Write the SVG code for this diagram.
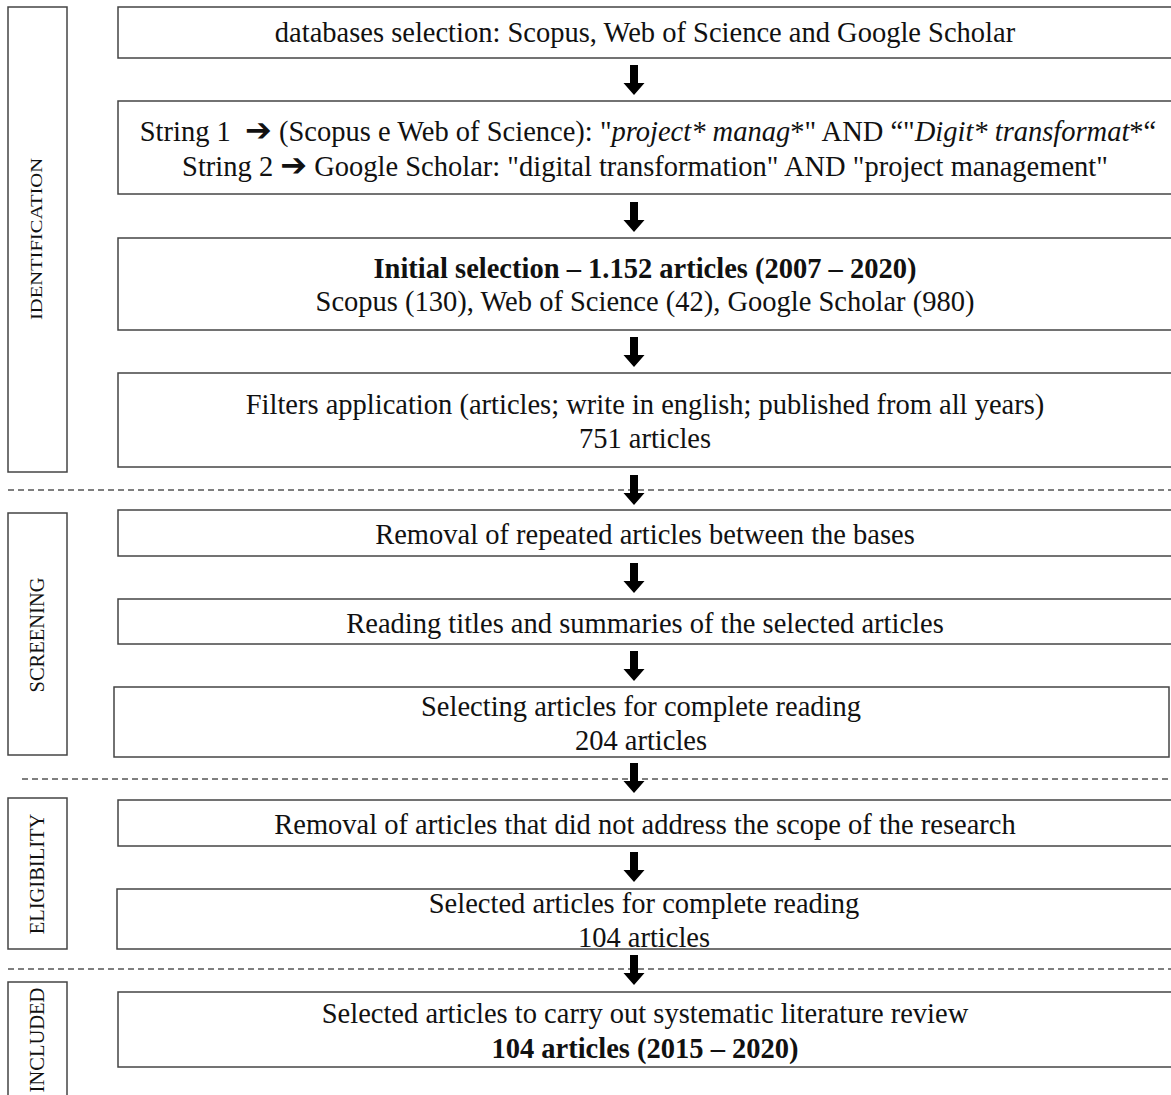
<svg xmlns="http://www.w3.org/2000/svg" width="1171" height="1095" viewBox="0 0 1171 1095">
  <style>
    .box { fill: #ffffff; stroke: #444444; stroke-width: 1.5; }
    .stage { fill: #ffffff; stroke: #444444; stroke-width: 1.5; }
    .sep { stroke: #555555; stroke-width: 1.3; stroke-dasharray: 6 4; fill: none; }
    .t { font-family: "Liberation Serif", "Times New Roman", serif; font-size: 28.5px; fill: #111111; text-anchor: middle; }
    .st { font-family: "Liberation Serif", "Times New Roman", serif; font-size: 20.5px; fill: #111111; text-anchor: middle; }
    .b { font-weight: bold; }
    .i { font-style: italic; }
    .ar { font-family: "DejaVu Sans", sans-serif; font-weight: bold; font-size: 32px; }
  </style>
  <defs>
    <!-- block arrow used between consecutive steps -->
    <path id="down" d="M-4,0 H4 V18 H10.5 L0,30 L-10.5,18 H-4 Z" fill="#000000"/>
  </defs>
  <rect width="1171" height="1095" fill="#ffffff"/>

  <!-- phase separators -->
  <g id="separators">
    <line class="sep" x1="8" y1="490" x2="1171" y2="490"/>
    <line class="sep" x1="22" y1="779" x2="1171" y2="779"/>
    <line class="sep" x1="8" y1="969" x2="1171" y2="969"/>
  </g>

  <!-- phase labels -->
  <g id="stage-identification">
    <rect class="stage" x="8" y="7" width="59" height="465"/>
    <text class="st" style="font-size:16px" transform="translate(42,239) rotate(-90)" textLength="162" lengthAdjust="spacingAndGlyphs">IDENTIFICATION</text>
  </g>
  <g id="stage-screening">
    <rect class="stage" x="8" y="513" width="59" height="242"/>
    <text class="st" transform="translate(44,635) rotate(-90)">SCREENING</text>
  </g>
  <g id="stage-eligibility">
    <rect class="stage" x="8" y="798" width="59" height="151"/>
    <text class="st" transform="translate(44,874) rotate(-90)">ELIGIBILITY</text>
  </g>
  <g id="stage-included">
    <rect class="stage" x="8" y="982" width="59" height="130"/>
    <text class="st" transform="translate(44,1040) rotate(-90)">INCLUDED</text>
  </g>

  <!-- connectors -->
  <g id="connectors">
    <use href="#down" x="634" y="65"/>
    <use href="#down" x="634" y="202"/>
    <use href="#down" x="634" y="337"/>
    <use href="#down" x="634" y="475"/>
    <use href="#down" x="634" y="563"/>
    <use href="#down" x="634" y="651"/>
    <use href="#down" x="634" y="763"/>
    <use href="#down" x="634" y="852"/>
    <use href="#down" x="634" y="955"/>
  </g>

  <!-- steps -->
  <g id="n1">
    <rect class="box" x="118" y="7" width="1060" height="51"/>
    <text class="t" x="645" y="42">databases selection: Scopus, Web of Science and Google Scholar</text>
  </g>
  <g id="n2">
    <rect class="box" x="118" y="101" width="1060" height="93"/>
    <text class="t" x="648" y="141" xml:space="preserve">String 1  <tspan class="ar">➔</tspan> (Scopus e Web of Science): "<tspan class="i">project* manag</tspan>*" AND “"<tspan class="i">Digit* transformat</tspan>*“</text>
    <text class="t" x="645" y="176">String 2 <tspan class="ar">➔</tspan> Google Scholar: "digital transformation" AND "project management"</text>
  </g>
  <g id="n3">
    <rect class="box" x="118" y="238" width="1060" height="92"/>
    <text class="t b" x="645" y="278">Initial selection – 1.152 articles (2007 – 2020)</text>
    <text class="t" x="645" y="311">Scopus (130), Web of Science (42), Google Scholar (980)</text>
  </g>
  <g id="n4">
    <rect class="box" x="118" y="373" width="1060" height="94"/>
    <text class="t" x="645" y="414">Filters application (articles; write in english; published from all years)</text>
    <text class="t" x="645" y="448">751 articles</text>
  </g>
  <g id="n5">
    <rect class="box" x="118" y="510" width="1060" height="46"/>
    <text class="t" x="645" y="544">Removal of repeated articles between the bases</text>
  </g>
  <g id="n6">
    <rect class="box" x="118" y="599" width="1060" height="45"/>
    <text class="t" x="645" y="633">Reading titles and summaries of the selected articles</text>
  </g>
  <g id="n7">
    <rect class="box" x="114" y="687" width="1055" height="70"/>
    <text class="t" x="641" y="716">Selecting articles for complete reading</text>
    <text class="t" x="641" y="750">204 articles</text>
  </g>
  <g id="n8">
    <rect class="box" x="118" y="800" width="1060" height="46"/>
    <text class="t" x="645" y="834">Removal of articles that did not address the scope of the research</text>
  </g>
  <g id="n9">
    <rect class="box" x="117" y="889" width="1060" height="60"/>
    <text class="t" x="644" y="913">Selected articles for complete reading</text>
    <text class="t" x="644" y="947">104 articles</text>
  </g>
  <g id="n10">
    <rect class="box" x="118" y="992" width="1060" height="75"/>
    <text class="t" x="645" y="1023">Selected articles to carry out systematic literature review</text>
    <text class="t b" x="645" y="1058">104 articles (2015 – 2020)</text>
  </g>
</svg>
